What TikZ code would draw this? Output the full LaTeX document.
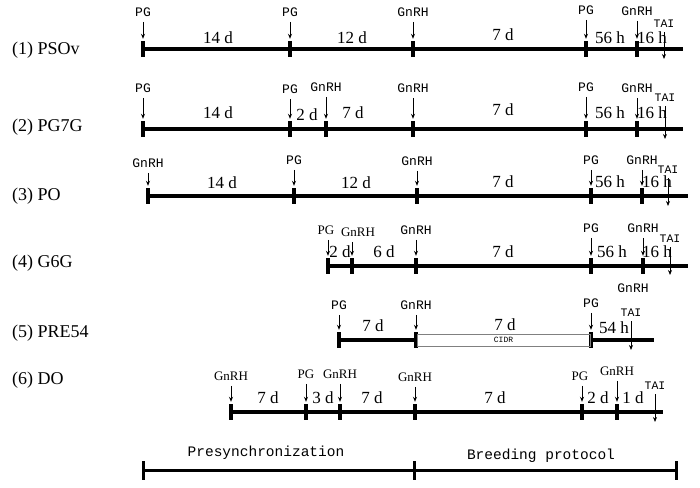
\documentclass[tikz,border=0pt]{standalone}
\usepackage{fontspec}
\setmainfont{Liberation Serif}
\setmonofont{Liberation Mono}
\usetikzlibrary{positioning,arrows.meta}

\begin{document}
\begin{tikzpicture}[x=1pt, y=-1pt,
    tk/.style = {fill, rectangle, inner sep=0pt, minimum width=4pt, minimum height=16pt},
    tkb/.style = {fill, rectangle, inner sep=0pt, minimum width=3pt, minimum height=19pt},
    bar/.style = {line width=3.5pt},
    arr/.style = {-{Stealth[length=5pt,width=4pt]}, line width=0.8pt, shorten <=4pt, shorten >=2pt},
    drug/.style = {font=\ttfamily\fontsize{13}{13}\selectfont, inner sep=0.5pt},
    drugs/.style = {font=\fontsize{13}{13}\selectfont, inner sep=0.5pt},
    tai/.style = {font=\ttfamily\fontsize{11.5}{11.5}\selectfont, inner sep=0.5pt},
    dur/.style = {font=\fontsize{17}{17}\selectfont, inner sep=0pt},
    prot/.style = {font=\fontsize{18}{18}\selectfont, anchor=west, inner sep=0pt},
    phase/.style = {font=\ttfamily\fontsize{14.5}{14.5}\selectfont, inner sep=0pt}]
    \useasboundingbox (0,0) rectangle (700,487);

    % (1) PSOv
    \node[prot] (n1) at (12,50) {(1) PSOv};
    \node[tk] (r1a) at (143,49) {};
    \node[tk] (r1b) at (290,49) {};
    \node[tk] (r1c) at (413,49) {};
    \node[tk] (r1d) at (586,49) {};
    \node[tk] (r1e) at (637,49) {};
    \coordinate (r1z) at (683,49);
    \draw[bar] (r1a.center) -- (r1z);
    \node[drug, above=23pt of r1a] (p1a) {PG};
    \node[drug, above=23pt of r1b] (p1b) {PG};
    \node[drug, above=23pt of r1c] (g1c) {GnRH};
    \node[drug, above=25pt of r1d] (p1d) {PG};
    \node[drug, above=24pt of r1e] (g1e) {GnRH};
    \draw[arr] (p1a) -- (r1a);
    \draw[arr] (p1b) -- (r1b);
    \draw[arr] (g1c) -- (r1c);
    \draw[arr] (p1d) -- (r1d);
    \draw[arr] (g1e) -- (r1e);
    \node[dur] (d1a) at (218,38) {14 d};
    \node[dur] (d1b) at (352,38) {12 d};
    \node[dur] (d1c) at (503,35) {7 d};
    \node[dur] (d1d) at (610,38) {56 h};
    \node[dur] (d1e) at (652,38) {16 h};
    \node[tai] (t1) at (664,24) {TAI};
    \coordinate (t1z) at (664,61);
    \draw[arr] (t1) -- (t1z);

    % (2) PG7G
    \node[prot] (n2) at (12,127) {(2) PG7G};
    \node[tk] (r2a) at (143,129) {};
    \node[tk] (r2b) at (290,129) {};
    \node[tk] (r2c) at (326,129) {};
    \node[tk] (r2d) at (413,129) {};
    \node[tk] (r2e) at (586,129) {};
    \node[tk] (r2f) at (637,129) {};
    \coordinate (r2z) at (683,129);
    \draw[bar] (r2a.center) -- (r2z);
    \node[drug, above=27pt of r2a] (p2a) {PG};
    \node[drug, above=26pt of r2b] (p2b) {PG};
    \node[drug, above=28pt of r2c] (g2c) {GnRH};
    \node[drug, above=27pt of r2d] (g2d) {GnRH};
    \node[drug, above=28pt of r2e] (p2e) {PG};
    \node[drug, above=27pt of r2f] (g2f) {GnRH};
    \draw[arr] (p2a) -- (r2a);
    \draw[arr] (p2b) -- (r2b);
    \draw[arr] (g2c) -- (r2c);
    \draw[arr] (g2d) -- (r2d);
    \draw[arr] (p2e) -- (r2e);
    \draw[arr] (g2f) -- (r2f);
    \node[dur] (d2a) at (218,113) {14 d};
    \node[dur] (d2b) at (307,115) {2 d};
    \node[dur] (d2c) at (353,113) {7 d};
    \node[dur] (d2d) at (503,110) {7 d};
    \node[dur] (d2e) at (610,113) {56 h};
    \node[dur] (d2f) at (652,113) {16 h};
    \node[tai] (t2) at (665,98) {TAI};
    \coordinate (t2z) at (665,141);
    \draw[arr] (t2) -- (t2z);

    % (3) PO
    \node[prot] (n3) at (12,196) {(3) PO};
    \node[tk] (r3a) at (148,196) {};
    \node[tk] (r3b) at (294,196) {};
    \node[tk] (r3c) at (417,196) {};
    \node[tk] (r3d) at (591,196) {};
    \node[tk] (r3e) at (642,196) {};
    \coordinate (r3z) at (688,196);
    \draw[bar] (r3a.center) -- (r3z);
    \node[drug, above=19pt of r3a] (g3a) {GnRH};
    \node[drug, above=22pt of r3b] (p3b) {PG};
    \node[drug, above=21pt of r3c] (g3c) {GnRH};
    \node[drug, above=22pt of r3d] (p3d) {PG};
    \node[drug, above=22pt of r3e] (g3e) {GnRH};
    \draw[arr] (g3a) -- (r3a);
    \draw[arr] (p3b) -- (r3b);
    \draw[arr] (g3c) -- (r3c);
    \draw[arr] (p3d) -- (r3d);
    \draw[arr] (g3e) -- (r3e);
    \node[dur] (d3a) at (222,183) {14 d};
    \node[dur] (d3b) at (356,183) {12 d};
    \node[dur] (d3c) at (503,182) {7 d};
    \node[dur] (d3d) at (610,182) {56 h};
    \node[dur] (d3e) at (657,182) {16 h};
    \node[tai] (t3) at (668,170) {TAI};
    \coordinate (t3z) at (668,208);
    \draw[arr] (t3) -- (t3z);

    % (4) G6G
    \node[prot] (n4) at (12,263) {(4) G6G};
    \node[tk] (r4a) at (328,266) {};
    \node[tk] (r4b) at (352,266) {};
    \node[tk] (r4c) at (416,266) {};
    \node[tk] (r4d) at (591,266) {};
    \node[tk] (r4e) at (643,266) {};
    \coordinate (r4z) at (688,266);
    \draw[bar] (r4a.center) -- (r4z);
    \node[drugs, above=22pt of r4a, xshift=-2pt] (p4a) {PG};
    \node[drugs, above=20pt of r4b, xshift=6pt] (g4b) {GnRH};
    \node[drug, above=22pt of r4c] (g4c) {GnRH};
    \node[drug, above=24pt of r4d] (p4d) {PG};
    \node[drug, above=24pt of r4e] (g4e) {GnRH};
    \draw[arr] (p4a.south -| r4a) -- (r4a);
    \draw[arr] (g4b.south -| r4b) -- (r4b);
    \draw[arr] (g4c) -- (r4c);
    \draw[arr] (p4d) -- (r4d);
    \draw[arr] (g4e) -- (r4e);
    \node[dur] (d4a) at (340,252) {2 d};
    \node[dur] (d4b) at (384,252) {6 d};
    \node[dur] (d4c) at (503,252) {7 d};
    \node[dur] (d4d) at (612,252) {56 h};
    \node[dur] (d4e) at (657,252) {16 h};
    \node[tai] (t4) at (670,239) {TAI};
    \coordinate (t4z) at (670,277);
    \draw[arr] (t4) -- (t4z);

    % (5) PRE54
    \node[prot] (n5) at (12,333) {(5) PRE54};
    \node[tk] (r5a) at (339,340) {};
    \node[tk] (r5b) at (416,340) {};
    \node[tk] (r5c) at (591,340) {};
    \coordinate (r5z) at (654,340);
    \draw[bar] (r5a.center) -- (r5b.center);
    \draw[bar] (r5c.center) -- (r5z);
    \node[draw=gray, line width=0.6pt, minimum width=173pt, minimum height=12pt, inner sep=0pt,
          font=\ttfamily\fontsize{8}{8}\selectfont] (cidr) at (503.5,340) {CIDR};
    \node[drug, above=21pt of r5a] (p5a) {PG};
    \node[drug, above=21pt of r5b] (g5b) {GnRH};
    \node[drug, above=23pt of r5c] (p5c) {PG};
    \draw[arr] (p5a) -- (r5a);
    \draw[arr] (g5b) -- (r5b);
    \draw[arr] (p5c) -- (r5c);
    \node[drug] (g5d) at (633,288) {GnRH};
    \node[dur] (d5a) at (373,326) {7 d};
    \node[dur] (d5b) at (505,325) {7 d};
    \node[dur] (d5c) at (614,328) {54 h};
    \node[tai] (t5) at (631,313) {TAI};
    \coordinate (t5z) at (631,352);
    \draw[arr] (t5) -- (t5z);

    % (6) DO
    \node[prot] (n6) at (12,380) {(6) DO};
    \node[tk] (r6a) at (231,412) {};
    \node[tk] (r6b) at (306,412) {};
    \node[tk] (r6c) at (340,412) {};
    \node[tk] (r6d) at (415,412) {};
    \node[tk] (r6e) at (582,412) {};
    \node[tk] (r6f) at (617,412) {};
    \coordinate (r6z) at (663,412);
    \draw[bar] (r6a.center) -- (r6z);
    \node[drugs, above=22pt of r6a] (g6a) {GnRH};
    \node[drugs, above=24pt of r6b] (p6b) {PG};
    \node[drugs, above=24pt of r6c] (g6c) {GnRH};
    \node[drugs, above=21pt of r6d] (g6d) {GnRH};
    \node[drugs, above=22pt of r6e, xshift=-2pt] (p6e) {PG};
    \node[drugs, above=27pt of r6f] (g6f) {GnRH};
    \draw[arr] (g6a) -- (r6a);
    \draw[arr] (p6b) -- (r6b);
    \draw[arr] (g6c) -- (r6c);
    \draw[arr] (g6d) -- (r6d);
    \draw[arr] (p6e.south -| r6e) -- (r6e);
    \draw[arr] (g6f) -- (r6f);
    \node[dur] (d6a) at (268,398) {7 d};
    \node[dur] (d6b) at (323,398) {3 d};
    \node[dur] (d6c) at (372,398) {7 d};
    \node[dur] (d6d) at (495,398) {7 d};
    \node[dur] (d6e) at (598,398) {2 d};
    \node[dur] (d6f) at (633,398) {1 d};
    \node[tai] (t6) at (655,386) {TAI};
    \coordinate (t6z) at (655,424);
    \draw[arr] (t6) -- (t6z);

    % phases
    \node[tkb] (b1) at (143,470) {};
    \node[tkb] (b2) at (414,470) {};
    \node[tkb] (b3) at (676,470) {};
    \draw[line width=3pt] (b1.center) -- (b3.center);
    \node[phase] (pre) at (266,453) {Presynchronization};
    \node[phase] (bre) at (541,456) {Breeding protocol};
\end{tikzpicture}
\end{document}
